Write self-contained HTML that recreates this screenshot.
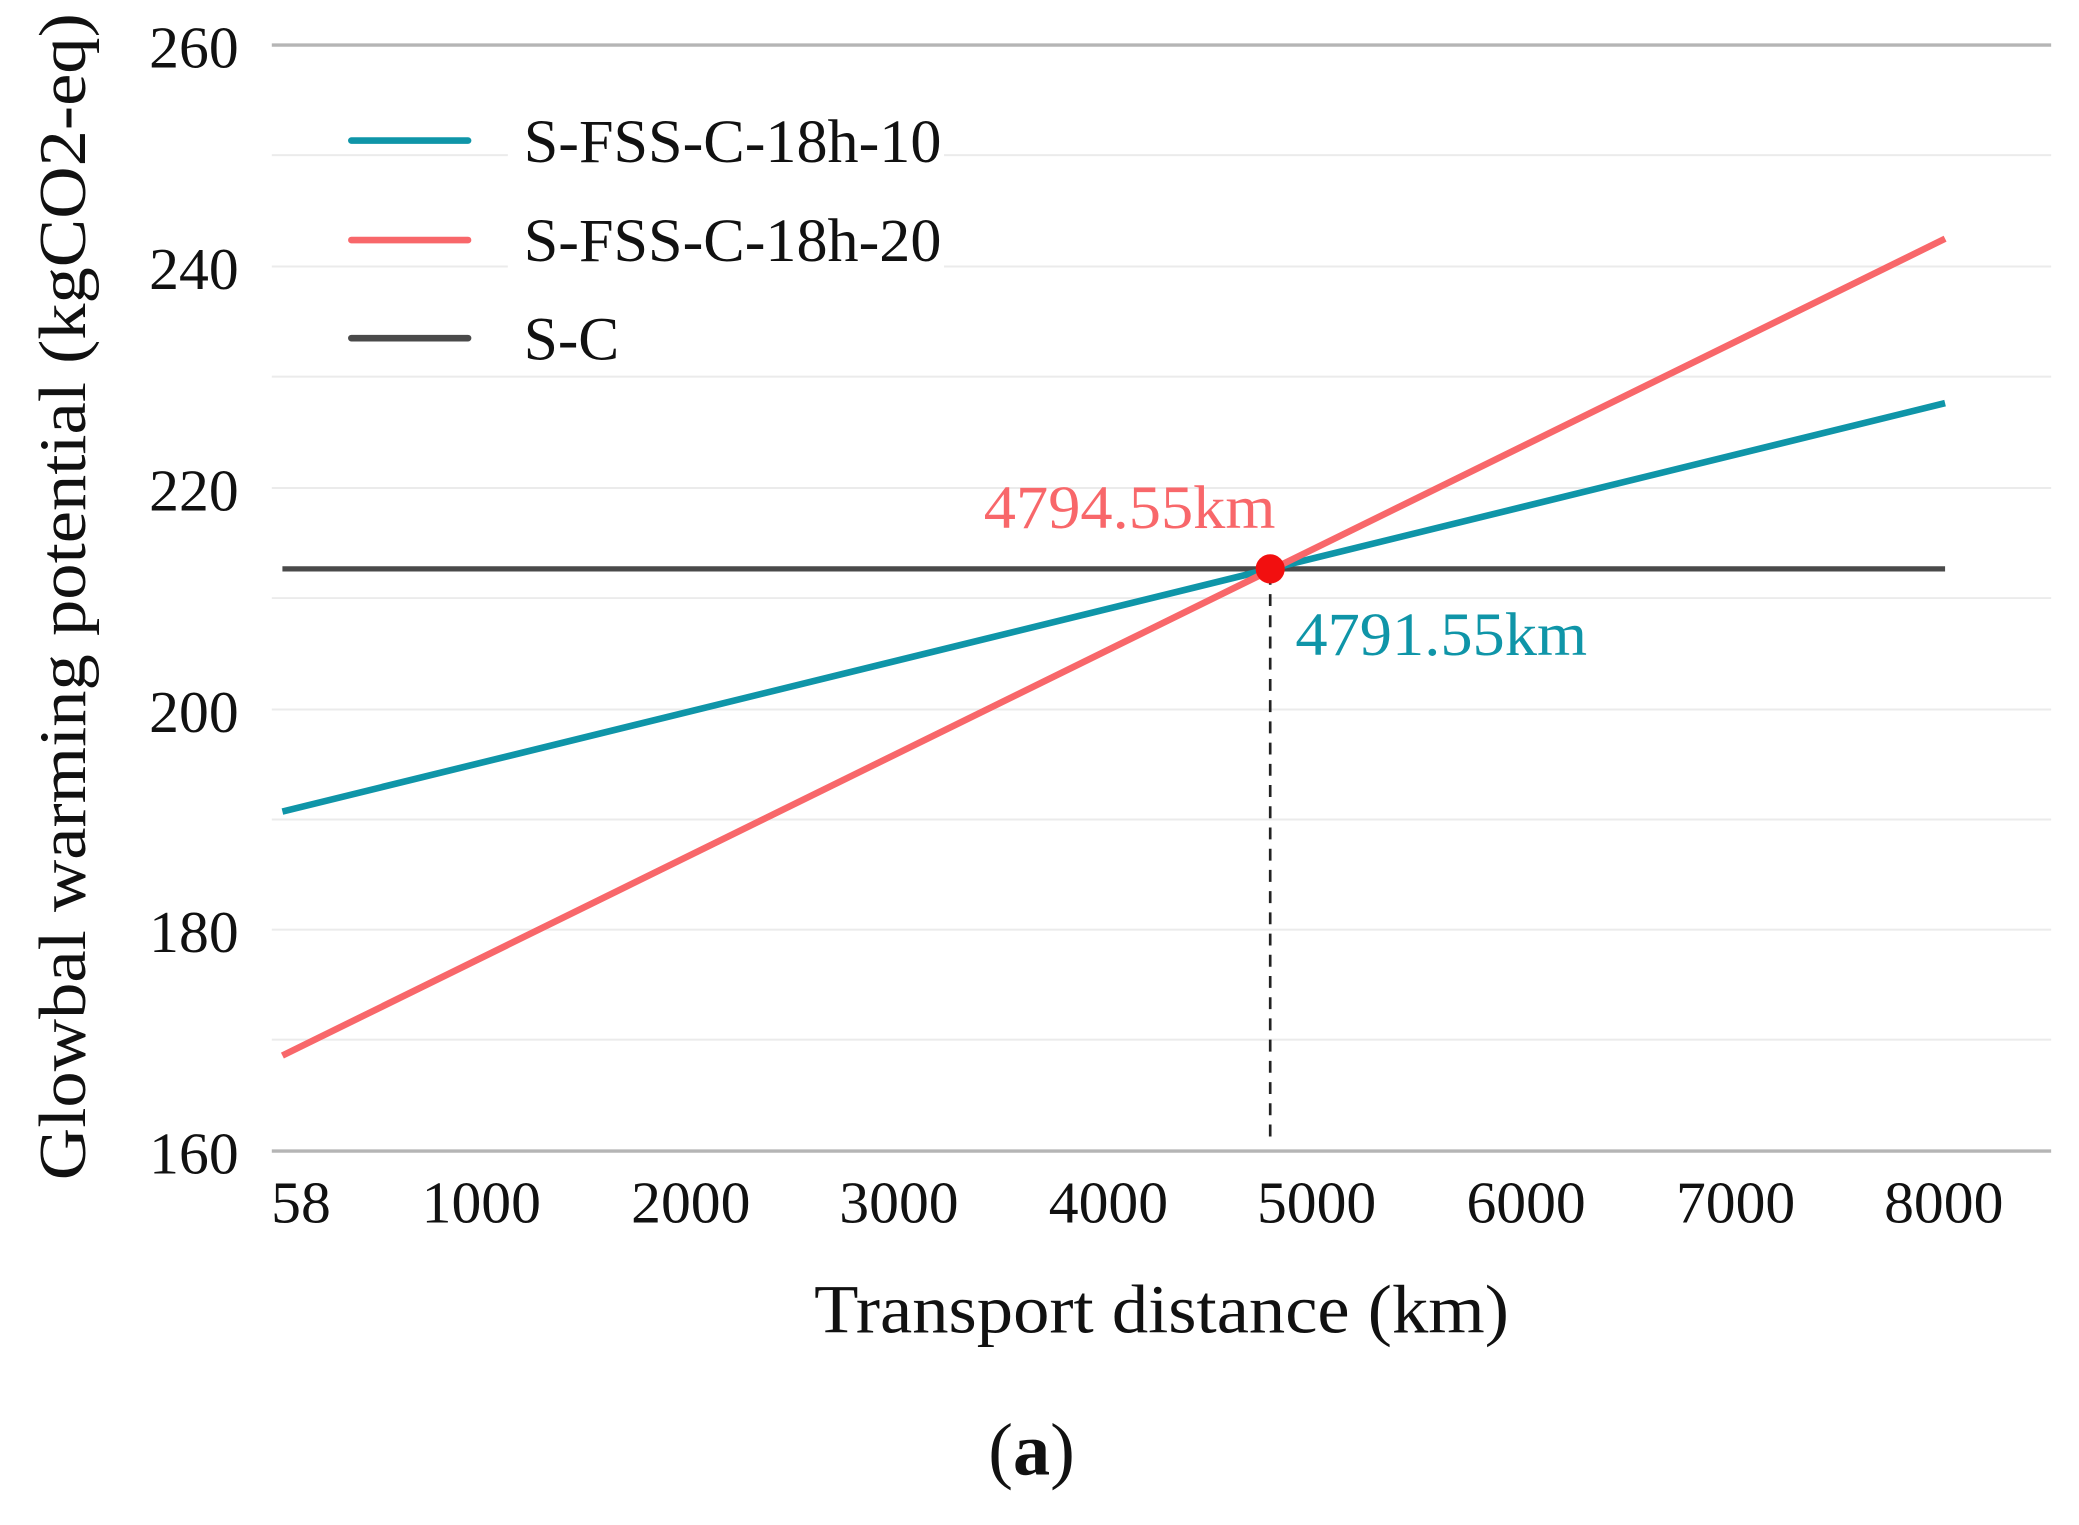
<!DOCTYPE html>
<html><head><meta charset="utf-8"><style>
html,body{margin:0;padding:0;background:#fff;}
svg{display:block;}
text{font-family:"Liberation Serif","Times New Roman",serif;}
</style></head><body>
<svg width="2079" height="1525" viewBox="0 0 1568 1150" preserveAspectRatio="none" xmlns="http://www.w3.org/2000/svg">
<rect width="1568" height="1150" fill="#fff"/>
<g stroke="#ebebeb" stroke-width="1.5">
<line x1="205" x2="1547" y1="117" y2="117"/>
<line x1="205" x2="1547" y1="201" y2="201"/>
<line x1="205" x2="1547" y1="284" y2="284"/>
<line x1="205" x2="1547" y1="368" y2="368"/>
<line x1="205" x2="1547" y1="451" y2="451"/>
<line x1="205" x2="1547" y1="535" y2="535"/>
<line x1="205" x2="1547" y1="618" y2="618"/>
<line x1="205" x2="1547" y1="701" y2="701"/>
<line x1="205" x2="1547" y1="784" y2="784"/>
</g>
<line x1="205" x2="1547" y1="34" y2="34" stroke="#b5b5b5" stroke-width="2.5"/>
<line x1="205" x2="1547" y1="868" y2="868" stroke="#b5b5b5" stroke-width="2.5"/>
<rect x="383" y="80" width="329" height="200" fill="#fff"/>
<g font-size="45" fill="#111" text-anchor="end">
<text x="180" y="51">260</text>
<text x="180" y="218">240</text>
<text x="180" y="385">220</text>
<text x="180" y="552">200</text>
<text x="180" y="718">180</text>
<text x="180" y="885">160</text>
</g>
<g font-size="45" fill="#111" text-anchor="middle">
<text x="227" y="922">58</text>
<text x="363" y="922">1000</text>
<text x="521" y="922">2000</text>
<text x="678" y="922">3000</text>
<text x="836" y="922">4000</text>
<text x="993" y="922">5000</text>
<text x="1151" y="922">6000</text>
<text x="1309" y="922">7000</text>
<text x="1466" y="922">8000</text>
</g>
<line x1="213" x2="1467" y1="429" y2="429" stroke="#4a4a4a" stroke-width="4"/>
<line x1="213" x2="1467" y1="612" y2="304" stroke="#0f95a8" stroke-width="5"/>
<line x1="213" x2="1467" y1="796" y2="180" stroke="#f8676a" stroke-width="5"/>
<line x1="958" x2="958" y1="432" y2="862" stroke="#222" stroke-width="2" stroke-dasharray="9,7"/>
<circle cx="958" cy="429" r="11" fill="#f20f0f"/>
<text x="742" y="398" font-size="46" fill="#f8676a" textLength="220" lengthAdjust="spacingAndGlyphs">4794.55km</text>
<text x="977" y="494" font-size="46" fill="#0f95a8" textLength="220" lengthAdjust="spacingAndGlyphs">4791.55km</text>
<g stroke-width="5" stroke-linecap="round">
<line x1="265" x2="353" y1="106" y2="106" stroke="#0f95a8"/>
<line x1="265" x2="353" y1="181" y2="181" stroke="#f8676a"/>
<line x1="265" x2="353" y1="255" y2="255" stroke="#4a4a4a"/>
</g>
<g font-size="46" fill="#111">
<text x="395" y="122" textLength="315" lengthAdjust="spacingAndGlyphs">S-FSS-C-18h-10</text>
<text x="395" y="197" textLength="315" lengthAdjust="spacingAndGlyphs">S-FSS-C-18h-20</text>
<text x="395" y="271" textLength="72" lengthAdjust="spacingAndGlyphs">S-C</text>
</g>
<text transform="translate(64,450) rotate(-90)" font-size="50" fill="#111" text-anchor="middle" textLength="880" lengthAdjust="spacingAndGlyphs">Glowbal warming potential (kgCO2-eq)</text>
<text x="876" y="1005" font-size="52" fill="#111" text-anchor="middle" textLength="524" lengthAdjust="spacingAndGlyphs">Transport distance (km)</text>
<text x="778" y="1112" font-size="56" fill="#111" text-anchor="middle">(<tspan font-weight="bold">a</tspan>)</text>
</svg>
</body></html>
